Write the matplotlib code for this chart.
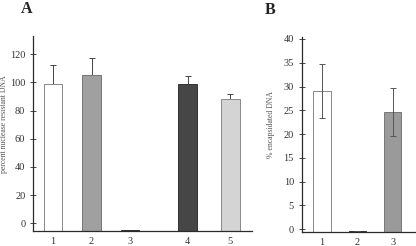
import matplotlib
matplotlib.use('Agg')
import matplotlib.pyplot as plt

plt.rcParams['font.family'] = ['Liberation Serif', 'DejaVu Serif']

# panel A
A_LABELS = ['1', '2', '3', '4', '5']
A_POS = [1, 2, 3, 4.5, 5.6]
A_VALUES = [99, 105.5, -5, 99, 88]
A_ERR = [13.5, 12, 0, 5.7, 3.7]
A_COLORS = ['white', '#a0a0a0', '#555555', '#464646', '#d4d4d4']
A_EDGES = ['#888888', '#777777', '#333333', '#333333', '#888888']
A_FLOOR = -5.5

# panel B
B_LABELS = ['1', '2', '3']
B_POS = [1, 2, 3]
B_VALUES = [29.05, -0.3, 24.6]
B_ERR = [5.6, 0, 5.1]
B_COLORS = ['white', '#555555', '#9a9a9a']
B_EDGES = ['#888888', '#333333', '#777777']
B_FLOOR = -0.63

AX_COLOR = '#2a2a2a'
TXT_COLOR = '#333333'


def style_axis(ax):
    for s in ['top', 'right']:
        ax.spines[s].set_visible(False)
    for s in ['left', 'bottom']:
        ax.spines[s].set_color(AX_COLOR)
        ax.spines[s].set_linewidth(0.9)
    ax.tick_params(axis='y', direction='inout', length=4, width=0.6,
                   color=AX_COLOR, labelsize=7.5, labelcolor=TXT_COLOR, pad=3.5)
    ax.tick_params(axis='x', length=0, labelsize=7.5, labelcolor=TXT_COLOR, pad=4)


fig = plt.figure(figsize=(4.16, 2.46), dpi=100)

axA = fig.add_axes([0.0793, 0.061, 0.5257, 0.793])
heights = [v - A_FLOOR for v in A_VALUES]
axA.bar(A_POS, heights, bottom=A_FLOOR, width=0.49, color=A_COLORS,
        edgecolor=A_EDGES, linewidth=0.7, zorder=2)
axA.errorbar(A_POS, A_VALUES, yerr=[[0] * len(A_ERR), A_ERR], fmt='none',
             ecolor='#444444', elinewidth=0.7, capsize=2, capthick=0.7, zorder=1)
axA.set_xlim(0.48, 6.16)
axA.set_ylim(A_FLOOR, 133)
axA.set_yticks([0, 20, 40, 60, 80, 100, 120])
axA.set_xticks(A_POS)
axA.set_xticklabels(A_LABELS)
style_axis(axA)
axA.set_ylabel('percent nuclease resistant DNA', fontsize=5.6, color='#555555')
axA.yaxis.set_label_coords(-0.114, 0.55)

axB = fig.add_axes([0.725, 0.0557, 0.273, 0.7939])
heights = [v - B_FLOOR for v in B_VALUES]
axB.bar(B_POS, heights, bottom=B_FLOOR, width=0.5, color=B_COLORS,
        edgecolor=B_EDGES, linewidth=0.7, zorder=1)
axB.errorbar(B_POS, B_VALUES, yerr=B_ERR, fmt='none', ecolor='#555555',
             elinewidth=0.7, capsize=2, capthick=0.7, zorder=2)
axB.set_xlim(0.417, 3.64)
axB.set_ylim(B_FLOOR, 40.4)
axB.set_yticks([0, 5, 10, 15, 20, 25, 30, 35, 40])
axB.set_xticks(B_POS)
axB.set_xticklabels(B_LABELS)
style_axis(axB)
axB.set_ylabel('% encapsidated DNA', fontsize=5.6, color='#555555')
axB.yaxis.set_label_coords(-0.236, 0.55)

fig.text(27 / 416, 1 - 9 / 246, 'A', fontsize=11.5, fontweight='bold',
         ha='center', va='center', color='#222222')
fig.text(270 / 416, 1 - 10 / 246, 'B', fontsize=11.5, fontweight='bold',
         ha='center', va='center', color='#222222')

fig.savefig('out.png', dpi=100)
